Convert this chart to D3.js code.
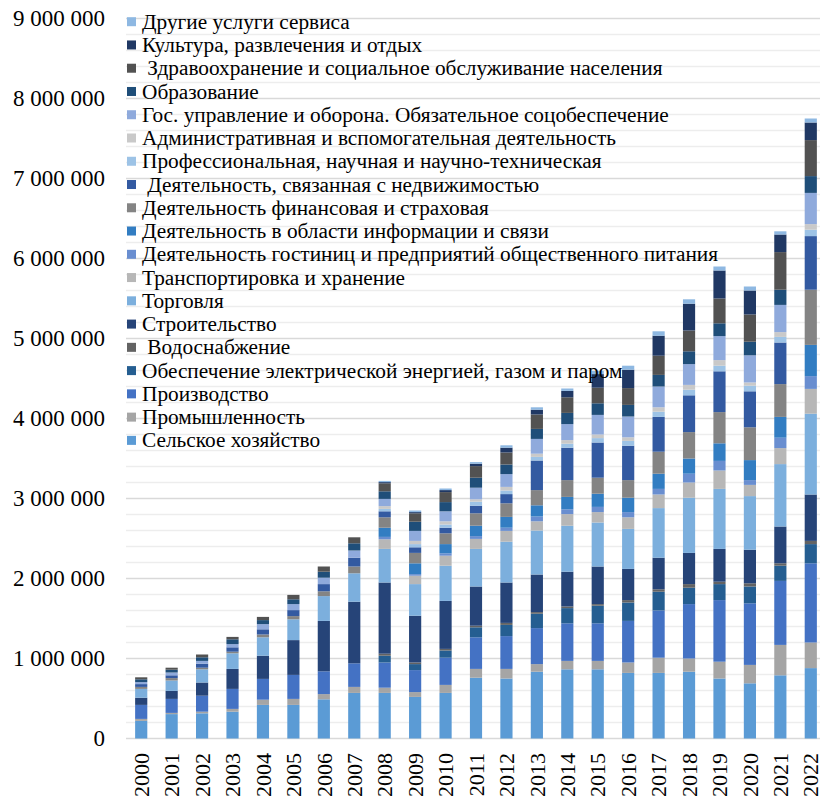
<!DOCTYPE html>
<html><head><meta charset="utf-8">
<script src="https://cdn.jsdelivr.net/npm/d3@7"></script>
<style>
html,body{margin:0;padding:0;background:#fff;}
svg{display:block;font-family:"Liberation Serif","Times New Roman",serif;}
</style>
</head><body>
<svg id="chart" width="820" height="801"></svg>
<script>
// ---------- DATA ----------
const years = ["2000","2001","2002","2003","2004","2005","2006","2007","2008","2009","2010","2011","2012","2013","2014","2015","2016","2017","2018","2019","2020","2021","2022"];

const categories = [
  "Сельское хозяйство",
  "Промышленность",
  "Производство",
  "Обеспечение электрической энергией, газом и паром",
  " Водоснабжение",
  "Строительство",
  "Торговля",
  "Транспортировка и хранение",
  "Деятельность гостиниц и предприятий общественного питания",
  "Деятельность в области информации и связи",
  "Деятельность финансовая и страховая",
  " Деятельность, связанная с недвижимостью",
  "Профессиональная, научная и научно-техническая",
  "Административная и вспомогательная деятельность",
  "Гос. управление и оборона. Обязательное соцобеспечение",
  "Образование",
  " Здравоохранение и социальное обслуживание населения",
  "Культура, развлечения и отдых",
  "Другие услуги сервиса"
];

const agriculture    = [220000,305000,315000,335000,420000,420000,490000,570000,570000,520000,570000,760000,750000,835000,865000,865000,820000,820000,835000,750000,690000,790000,880000];
const industry       = [25000,15000,20000,35000,65000,75000,65000,75000,65000,60000,100000,110000,120000,95000,105000,105000,130000,190000,165000,210000,230000,380000,320000];
const manufacturing  = [175000,175000,200000,250000,260000,300000,285000,295000,315000,275000,340000,395000,410000,450000,470000,470000,520000,590000,680000,770000,770000,800000,990000];
const electricity    = [0,0,0,0,0,0,0,0,85000,75000,90000,125000,140000,180000,190000,220000,230000,235000,205000,200000,210000,190000,240000];
const waterSupply    = [0,0,0,0,0,0,0,0,25000,20000,20000,20000,25000,20000,20000,20000,30000,30000,45000,30000,40000,30000,40000];
const construction   = [90000,100000,165000,250000,290000,435000,630000,770000,890000,585000,600000,490000,505000,470000,435000,470000,390000,395000,390000,410000,420000,460000,580000];
const trade          = [110000,130000,165000,195000,230000,260000,310000,355000,420000,395000,440000,470000,510000,550000,575000,550000,500000,620000,690000,750000,670000,780000,1010000];
const transport      = [0,0,0,0,0,0,0,0,120000,105000,125000,125000,135000,115000,145000,130000,145000,170000,190000,230000,140000,200000,310000];
const hotels         = [0,0,0,0,0,0,0,0,30000,20000,30000,35000,40000,60000,60000,65000,65000,70000,110000,120000,60000,130000,160000];
const information    = [0,0,0,0,0,0,0,0,115000,135000,115000,130000,135000,140000,155000,165000,180000,190000,190000,220000,250000,260000,390000];
const finance        = [25000,30000,20000,20000,35000,40000,60000,85000,130000,130000,135000,155000,170000,190000,210000,200000,220000,275000,330000,390000,410000,410000,690000];
const realEstate     = [35000,35000,50000,55000,65000,75000,90000,110000,75000,70000,70000,95000,115000,370000,405000,440000,430000,435000,460000,510000,450000,520000,670000];
const professional   = [0,0,0,0,0,0,0,0,30000,40000,40000,50000,45000,45000,50000,55000,60000,65000,70000,70000,70000,70000,80000];
const administrative = [0,0,0,0,0,0,0,0,35000,40000,40000,30000,45000,40000,45000,45000,45000,55000,60000,70000,40000,60000,70000];
const government     = [25000,35000,35000,40000,65000,75000,80000,90000,90000,125000,125000,145000,160000,185000,200000,245000,260000,260000,260000,300000,340000,340000,390000];
const education      = [35000,35000,45000,60000,50000,60000,75000,90000,95000,115000,115000,125000,120000,125000,140000,145000,145000,145000,160000,160000,170000,190000,210000];
const health         = [25000,25000,35000,30000,40000,55000,65000,75000,100000,105000,125000,145000,150000,180000,195000,195000,210000,240000,260000,310000,340000,470000,450000];
const culture        = [0,0,0,0,0,0,0,0,15000,15000,25000,30000,60000,60000,80000,170000,230000,250000,335000,350000,300000,220000,220000];
const otherServices  = [0,0,0,0,0,0,0,0,15000,20000,20000,20000,30000,30000,30000,40000,50000,55000,55000,50000,50000,40000,50000];

const yTicks = [0,1000000,2000000,3000000,4000000,5000000,6000000,7000000,8000000,9000000];

// ---------- STYLE ----------
const colors = ["#5B9BD5","#A5A5A5","#4472C4","#255E91","#636363","#264478","#7CAFDD","#B7B7B7","#698ED0",
                "#327DC2","#848484","#335AA1","#9DC3E6","#C9C9C9","#8FAADC","#1F4E79","#525252","#203864","#8EB8E2"];

const seriesValues = [agriculture,industry,manufacturing,electricity,waterSupply,construction,trade,transport,hotels,
  information,finance,realEstate,professional,administrative,government,education,health,culture,otherServices];

const table = years.map((y,i) => {
  const row = {year:y};
  categories.forEach((c,k) => row[k] = seriesValues[k][i]);
  return row;
});
const keys = categories.map((c,k) => k);
const stacked = d3.stack().keys(keys)(table);

const svg = d3.select("#chart");
const plotL = 126, plotR = 820;
const x = d3.scaleBand().domain(years).range([126, 826]).paddingInner(0.6).paddingOuter(0.3);
const y = d3.scaleLinear().domain([0, 9000000]).range([738.5, 18.5]);

// minor grid
const minor = d3.range(0, 9000001, 200000).filter(v => v % 1000000 !== 0);
svg.append("g").selectAll("line").data(minor).join("line")
  .attr("x1", plotL).attr("x2", plotR)
  .attr("y1", d => y(d)).attr("y2", d => y(d))
  .attr("stroke", "#ededed").attr("stroke-width", 1.5);
// major grid
svg.append("g").selectAll("line").data(yTicks).join("line")
  .attr("x1", plotL).attr("x2", plotR)
  .attr("y1", d => y(d)).attr("y2", d => y(d))
  .attr("stroke", "#d9d9d9").attr("stroke-width", 1.5);

// bars
svg.append("g").selectAll("g").data(stacked).join("g")
  .attr("fill", d => colors[d.key])
  .selectAll("rect").data(d => d).join("rect")
  .attr("x", d => x(d.data.year))
  .attr("width", x.bandwidth())
  .attr("y", d => y(d[1]))
  .attr("height", d => Math.max(0, y(d[0]) - y(d[1])));

// y axis
const fmt = v => d3.format(",")(v).replace(/,/g, " ");
const yAxis = svg.append("g").attr("transform", "translate(105,0)")
  .call(d3.axisLeft(y).tickValues(yTicks).tickSize(0).tickPadding(0).tickFormat(fmt));
yAxis.select(".domain").remove();
yAxis.selectAll("text").attr("font-size", "23px").attr("font-family", "Liberation Serif, serif").attr("fill", "#000");

// x axis labels
const xAxis = svg.append("g").attr("transform", "translate(0,753)")
  .call(d3.axisBottom(x).tickSize(0).tickPadding(0));
xAxis.select(".domain").remove();
xAxis.selectAll("text")
  .attr("font-size", "22px").attr("font-family", "Liberation Serif, serif").attr("fill", "#000")
  .attr("text-anchor", "end")
  .attr("transform", "rotate(-90)")
  .attr("x", 0).attr("y", 0).attr("dy", "0.35em");

// legend (reverse order)
const legendItems = keys.slice().reverse();
const lg = svg.append("g");
const rowH = 23.26;
const li = lg.selectAll("g").data(legendItems).join("g")
  .attr("transform", (d,i) => `translate(127,${21.7 + i*rowH})`);
li.append("rect").attr("x", 0).attr("y", -4.5).attr("width", 9).attr("height", 9)
  .attr("fill", d => colors[d]);
li.append("text").attr("x", 15).attr("y", 0).attr("dy", "0.33em")
  .attr("font-size", "21.3px").attr("fill", "#000")
  .style("white-space", "pre")
  .text(d => categories[d]);
</script>
</body></html>
